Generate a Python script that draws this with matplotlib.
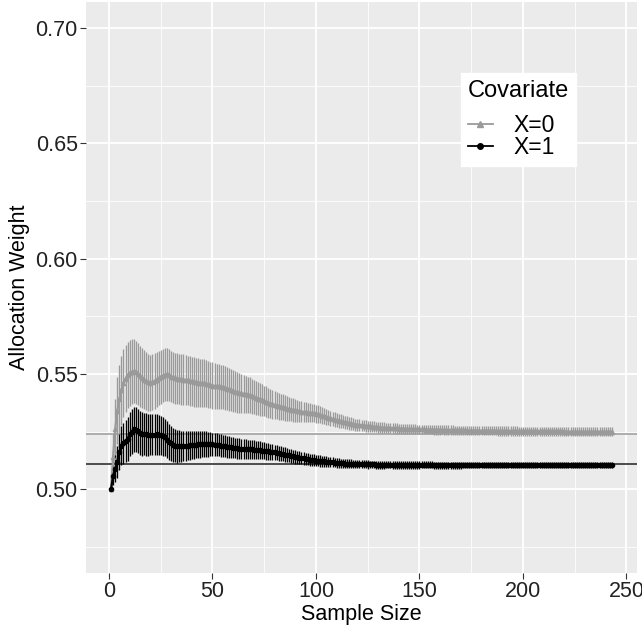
import matplotlib
matplotlib.use("Agg")
import matplotlib.pyplot as plt
import numpy as np
from matplotlib.lines import Line2D

plt.rcParams["font.family"] = ["Liberation Sans", "DejaVu Sans"]

# sample sizes 1..243
sample_size = np.arange(1, 244)

# X=0 : mean allocation weight and half-width of the error bar
x0_mean = [
    0.5000, 0.5140, 0.5260, 0.5340, 0.5390, 0.5430, 0.5460, 0.5480, 0.5495, 0.5505,
    0.5510, 0.5512, 0.5508, 0.5500, 0.5490, 0.5482, 0.5475, 0.5468, 0.5464, 0.5462,
    0.5465, 0.5470, 0.5476, 0.5482, 0.5488, 0.5493, 0.5497, 0.5498, 0.5494, 0.5489,
    0.5485, 0.5482, 0.5480, 0.5478, 0.5477, 0.5476, 0.5474, 0.5472, 0.5470, 0.5468,
    0.5466, 0.5465, 0.5463, 0.5462, 0.5461, 0.5460, 0.5458, 0.5455, 0.5452, 0.5450,
    0.5448, 0.5447, 0.5446, 0.5445, 0.5443, 0.5440, 0.5437, 0.5433, 0.5430, 0.5426,
    0.5423, 0.5420, 0.5418, 0.5416, 0.5414, 0.5412, 0.5410, 0.5407, 0.5404, 0.5400,
    0.5397, 0.5393, 0.5390, 0.5386, 0.5383, 0.5380, 0.5376, 0.5372, 0.5369, 0.5366,
    0.5363, 0.5360, 0.5358, 0.5356, 0.5353, 0.5350, 0.5348, 0.5346, 0.5344, 0.5342,
    0.5340, 0.5338, 0.5337, 0.5335, 0.5334, 0.5333, 0.5332, 0.5331, 0.5330, 0.5328,
    0.5326, 0.5323, 0.5320, 0.5317, 0.5314, 0.5311, 0.5308, 0.5305, 0.5302, 0.5300,
    0.5297, 0.5295, 0.5293, 0.5291, 0.5289, 0.5287, 0.5285, 0.5283, 0.5281, 0.5279,
    0.5278, 0.5277, 0.5276, 0.5275, 0.5274, 0.5273, 0.5272, 0.5271, 0.5270, 0.5269,
    0.5268, 0.5267, 0.5267, 0.5266, 0.5266, 0.5265, 0.5265, 0.5264, 0.5264, 0.5263,
    0.5263, 0.5263, 0.5262, 0.5262, 0.5262, 0.5261, 0.5261, 0.5261, 0.5260, 0.5260,
    0.5260, 0.5260, 0.5259, 0.5259, 0.5259, 0.5259, 0.5258, 0.5258, 0.5258, 0.5258,
    0.5258, 0.5257, 0.5257, 0.5257, 0.5257, 0.5257, 0.5256, 0.5256, 0.5256, 0.5256,
    0.5256, 0.5256, 0.5255, 0.5255, 0.5255, 0.5255, 0.5255, 0.5255, 0.5255, 0.5254,
    0.5254, 0.5254, 0.5254, 0.5254, 0.5254, 0.5254, 0.5254, 0.5253, 0.5253, 0.5253,
    0.5253, 0.5253, 0.5253, 0.5253, 0.5253, 0.5253, 0.5253, 0.5252, 0.5252, 0.5252,
    0.5252, 0.5252, 0.5252, 0.5252, 0.5252, 0.5252, 0.5251, 0.5251, 0.5251, 0.5251,
    0.5251, 0.5251, 0.5251, 0.5251, 0.5251, 0.5251, 0.5251, 0.5251, 0.5251, 0.5250,
    0.5250, 0.5250, 0.5250, 0.5250, 0.5250, 0.5250, 0.5250, 0.5250, 0.5250, 0.5250,
    0.5250, 0.5250, 0.5250, 0.5250, 0.5250, 0.5250, 0.5250, 0.5250, 0.5250, 0.5250,
    0.5250, 0.5250, 0.5250,
]
x0_err = [
    0.0000, 0.0100, 0.0130, 0.0145, 0.0150, 0.0150, 0.0148, 0.0146, 0.0144, 0.0142,
    0.0140, 0.0138, 0.0136, 0.0134, 0.0132, 0.0130, 0.0128, 0.0126, 0.0124, 0.0122,
    0.0121, 0.0120, 0.0119, 0.0118, 0.0117, 0.0116, 0.0115, 0.0114, 0.0113, 0.0112,
    0.0112, 0.0111, 0.0111, 0.0110, 0.0110, 0.0109, 0.0109, 0.0108, 0.0108, 0.0107,
    0.0107, 0.0106, 0.0106, 0.0105, 0.0105, 0.0104, 0.0103, 0.0102, 0.0101, 0.0100,
    0.0099, 0.0098, 0.0097, 0.0096, 0.0095, 0.0094, 0.0093, 0.0092, 0.0091, 0.0090,
    0.0088, 0.0087, 0.0085, 0.0084, 0.0082, 0.0081, 0.0079, 0.0078, 0.0076, 0.0075,
    0.0073, 0.0072, 0.0070, 0.0069, 0.0067, 0.0066, 0.0065, 0.0063, 0.0062, 0.0061,
    0.0060, 0.0058, 0.0057, 0.0056, 0.0055, 0.0054, 0.0052, 0.0051, 0.0050, 0.0049,
    0.0048, 0.0047, 0.0046, 0.0045, 0.0044, 0.0043, 0.0042, 0.0041, 0.0040, 0.0039,
    0.0038, 0.0037, 0.0036, 0.0035, 0.0035, 0.0034, 0.0033, 0.0032, 0.0032, 0.0031,
    0.0030, 0.0030, 0.0029, 0.0029, 0.0028, 0.0028, 0.0027, 0.0027, 0.0026, 0.0026,
    0.0025, 0.0025, 0.0025, 0.0025, 0.0024, 0.0024, 0.0024, 0.0024, 0.0023, 0.0023,
    0.0023, 0.0023, 0.0023, 0.0022, 0.0022, 0.0022, 0.0022, 0.0022, 0.0022, 0.0022,
    0.0022, 0.0022, 0.0021, 0.0021, 0.0021, 0.0021, 0.0021, 0.0021, 0.0021, 0.0021,
    0.0021, 0.0021, 0.0021, 0.0021, 0.0021, 0.0021, 0.0021, 0.0021, 0.0021, 0.0021,
    0.0020, 0.0020, 0.0020, 0.0020, 0.0020, 0.0020, 0.0020, 0.0020, 0.0020, 0.0020,
    0.0020, 0.0020, 0.0020, 0.0020, 0.0020, 0.0020, 0.0020, 0.0020, 0.0020, 0.0020,
    0.0020, 0.0020, 0.0020, 0.0020, 0.0020, 0.0020, 0.0020, 0.0020, 0.0020, 0.0020,
    0.0020, 0.0020, 0.0020, 0.0020, 0.0020, 0.0020, 0.0020, 0.0020, 0.0020, 0.0020,
    0.0019, 0.0019, 0.0019, 0.0019, 0.0019, 0.0019, 0.0019, 0.0019, 0.0019, 0.0019,
    0.0019, 0.0019, 0.0019, 0.0019, 0.0019, 0.0019, 0.0019, 0.0019, 0.0019, 0.0019,
    0.0019, 0.0019, 0.0019, 0.0019, 0.0019, 0.0019, 0.0019, 0.0019, 0.0019, 0.0019,
    0.0019, 0.0019, 0.0019, 0.0019, 0.0019, 0.0019, 0.0019, 0.0019, 0.0019, 0.0019,
    0.0019, 0.0019, 0.0019,
]

# X=1
x1_mean = [
    0.5000, 0.5060, 0.5090, 0.5120, 0.5160, 0.5190, 0.5200, 0.5210, 0.5220, 0.5240,
    0.5250, 0.5260, 0.5258, 0.5252, 0.5245, 0.5240, 0.5240, 0.5238, 0.5237, 0.5237,
    0.5237, 0.5237, 0.5238, 0.5237, 0.5235, 0.5230, 0.5225, 0.5216, 0.5207, 0.5199,
    0.5193, 0.5189, 0.5187, 0.5187, 0.5187, 0.5187, 0.5188, 0.5190, 0.5191, 0.5192,
    0.5193, 0.5194, 0.5195, 0.5195, 0.5196, 0.5196, 0.5196, 0.5195, 0.5195, 0.5195,
    0.5194, 0.5193, 0.5192, 0.5190, 0.5189, 0.5187, 0.5185, 0.5183, 0.5182, 0.5180,
    0.5179, 0.5178, 0.5177, 0.5176, 0.5175, 0.5175, 0.5174, 0.5173, 0.5173, 0.5172,
    0.5171, 0.5170, 0.5169, 0.5168, 0.5167, 0.5166, 0.5165, 0.5163, 0.5161, 0.5160,
    0.5159, 0.5157, 0.5155, 0.5153, 0.5151, 0.5149, 0.5147, 0.5145, 0.5143, 0.5141,
    0.5139, 0.5137, 0.5135, 0.5134, 0.5132, 0.5131, 0.5129, 0.5128, 0.5127, 0.5125,
    0.5124, 0.5123, 0.5122, 0.5121, 0.5120, 0.5119, 0.5118, 0.5117, 0.5116, 0.5115,
    0.5114, 0.5113, 0.5113, 0.5112, 0.5112, 0.5111, 0.5111, 0.5110, 0.5110, 0.5110,
    0.5110, 0.5109, 0.5109, 0.5109, 0.5108, 0.5108, 0.5108, 0.5108, 0.5107, 0.5107,
    0.5107, 0.5107, 0.5107, 0.5107, 0.5107, 0.5107, 0.5106, 0.5106, 0.5106, 0.5106,
    0.5106, 0.5106, 0.5106, 0.5106, 0.5106, 0.5106, 0.5106, 0.5106, 0.5106, 0.5106,
    0.5106, 0.5106, 0.5106, 0.5106, 0.5106, 0.5106, 0.5105, 0.5105, 0.5105, 0.5105,
    0.5105, 0.5105, 0.5105, 0.5105, 0.5105, 0.5105, 0.5105, 0.5105, 0.5105, 0.5105,
    0.5105, 0.5105, 0.5105, 0.5105, 0.5105, 0.5105, 0.5105, 0.5105, 0.5105, 0.5105,
    0.5105, 0.5105, 0.5105, 0.5105, 0.5105, 0.5105, 0.5105, 0.5105, 0.5105, 0.5105,
    0.5105, 0.5105, 0.5105, 0.5105, 0.5105, 0.5105, 0.5105, 0.5105, 0.5105, 0.5105,
    0.5105, 0.5105, 0.5105, 0.5105, 0.5105, 0.5105, 0.5105, 0.5105, 0.5105, 0.5105,
    0.5105, 0.5105, 0.5105, 0.5105, 0.5105, 0.5105, 0.5105, 0.5105, 0.5105, 0.5105,
    0.5105, 0.5105, 0.5105, 0.5105, 0.5105, 0.5105, 0.5105, 0.5105, 0.5105, 0.5105,
    0.5105, 0.5105, 0.5105, 0.5105, 0.5105, 0.5105, 0.5105, 0.5105, 0.5105, 0.5105,
    0.5105, 0.5105, 0.5105,
]
x1_err = [
    0.0000, 0.0040, 0.0060, 0.0070, 0.0078, 0.0084, 0.0088, 0.0092, 0.0095, 0.0097,
    0.0098, 0.0098, 0.0097, 0.0096, 0.0095, 0.0094, 0.0093, 0.0092, 0.0091, 0.0090,
    0.0089, 0.0088, 0.0087, 0.0086, 0.0085, 0.0084, 0.0082, 0.0080, 0.0078, 0.0076,
    0.0074, 0.0072, 0.0071, 0.0069, 0.0068, 0.0066, 0.0065, 0.0064, 0.0063, 0.0062,
    0.0061, 0.0060, 0.0059, 0.0058, 0.0057, 0.0056, 0.0055, 0.0054, 0.0052, 0.0051,
    0.0050, 0.0050, 0.0049, 0.0049, 0.0048, 0.0048, 0.0047, 0.0047, 0.0046, 0.0046,
    0.0045, 0.0045, 0.0044, 0.0044, 0.0043, 0.0043, 0.0042, 0.0042, 0.0041, 0.0041,
    0.0040, 0.0039, 0.0039, 0.0038, 0.0037, 0.0037, 0.0036, 0.0035, 0.0035, 0.0034,
    0.0033, 0.0033, 0.0032, 0.0032, 0.0031, 0.0031, 0.0030, 0.0030, 0.0029, 0.0029,
    0.0028, 0.0028, 0.0027, 0.0027, 0.0026, 0.0026, 0.0026, 0.0025, 0.0025, 0.0025,
    0.0024, 0.0024, 0.0023, 0.0023, 0.0023, 0.0022, 0.0022, 0.0022, 0.0021, 0.0021,
    0.0021, 0.0020, 0.0020, 0.0020, 0.0020, 0.0019, 0.0019, 0.0019, 0.0019, 0.0018,
    0.0018, 0.0018, 0.0018, 0.0018, 0.0018, 0.0017, 0.0017, 0.0017, 0.0017, 0.0017,
    0.0017, 0.0017, 0.0017, 0.0016, 0.0016, 0.0016, 0.0016, 0.0016, 0.0016, 0.0016,
    0.0016, 0.0016, 0.0016, 0.0016, 0.0016, 0.0016, 0.0016, 0.0016, 0.0016, 0.0016,
    0.0015, 0.0015, 0.0015, 0.0015, 0.0015, 0.0015, 0.0015, 0.0015, 0.0015, 0.0015,
    0.0015, 0.0015, 0.0015, 0.0015, 0.0015, 0.0015, 0.0015, 0.0015, 0.0015, 0.0015,
    0.0014, 0.0014, 0.0014, 0.0014, 0.0014, 0.0014, 0.0014, 0.0014, 0.0014, 0.0014,
    0.0014, 0.0014, 0.0014, 0.0014, 0.0014, 0.0014, 0.0014, 0.0014, 0.0014, 0.0014,
    0.0014, 0.0014, 0.0014, 0.0014, 0.0014, 0.0014, 0.0014, 0.0014, 0.0014, 0.0014,
    0.0013, 0.0013, 0.0013, 0.0013, 0.0013, 0.0013, 0.0013, 0.0013, 0.0013, 0.0013,
    0.0013, 0.0013, 0.0013, 0.0013, 0.0013, 0.0013, 0.0013, 0.0013, 0.0013, 0.0013,
    0.0013, 0.0013, 0.0013, 0.0013, 0.0013, 0.0013, 0.0013, 0.0013, 0.0013, 0.0013,
    0.0013, 0.0013, 0.0013, 0.0013, 0.0013, 0.0013, 0.0013, 0.0013, 0.0013, 0.0013,
    0.0013, 0.0013, 0.0013,
]

# horizontal reference levels
ref_x0 = 0.5238
ref_x1 = 0.5108

series_labels = ["X=0", "X=1"]
series_colors = ["#9a9a9a", "#000000"]
series_markers = ["^", "o"]

fig = plt.figure(figsize=(6.42, 6.28), dpi=100)
ax = fig.add_axes([86 / 642, 55 / 628, 551 / 642, 571 / 628])
ax.set_facecolor("#ebebeb")
for spine in ax.spines.values():
    spine.set_visible(False)

ax.set_xlim(-11.1, 255.1)
ax.set_ylim(0.46375, 0.71125)
ax.set_xticks([0, 50, 100, 150, 200, 250])
ax.set_xticks([25, 75, 125, 175, 225], minor=True)
ax.set_yticks([0.50, 0.55, 0.60, 0.65, 0.70])
ax.set_yticks([0.475, 0.525, 0.575, 0.625, 0.675], minor=True)
ax.set_yticklabels(["0.50", "0.55", "0.60", "0.65", "0.70"])
ax.grid(which="major", color="white", linewidth=1.3)
ax.grid(which="minor", color="white", linewidth=0.6)
ax.set_axisbelow(True)
ax.tick_params(which="major", length=4, width=0.8, color="#333333", labelsize=15.5,
               labelcolor="#222222", pad=2)
ax.tick_params(which="minor", length=0)

ax.axhline(ref_x0, color="#a8a8a8", linewidth=1.3, zorder=2)
ax.axhline(ref_x1, color="#404040", linewidth=1.3, zorder=2)

for mean, err, color, marker in zip([x0_mean, x1_mean], [x0_err, x1_err], series_colors, series_markers):
    mean = np.array(mean)
    err = np.array(err)
    ax.vlines(sample_size, mean - err, mean + err, color=color, linewidth=0.95, zorder=3)
    ax.plot(sample_size, mean, color=color, linewidth=1.6, marker=marker, markersize=3, zorder=4)

ax.set_xlabel("Sample Size", fontsize=15.5, labelpad=1)
ax.set_ylabel("Allocation Weight", fontsize=15.5, labelpad=4)

handles = [
    Line2D([], [], color=c, marker=m, markersize=4, linewidth=1.3) for c, m in zip(series_colors, series_markers)
]
leg = ax.legend(handles, series_labels, title="Covariate", loc="upper left",
                bbox_to_anchor=((461 - 86) / 551, (628 - 73 - 55) / 571), borderaxespad=0,
                fontsize=16.5, title_fontsize=17,
                frameon=True, facecolor="white", edgecolor="white", fancybox=False, framealpha=1,
                handlelength=1.1, handletextpad=0.9, labelspacing=-0.04, borderpad=0.3)
leg._legend_box.align = "left"
leg._legend_box.sep = 9

fig.savefig("out.png", dpi=100)
